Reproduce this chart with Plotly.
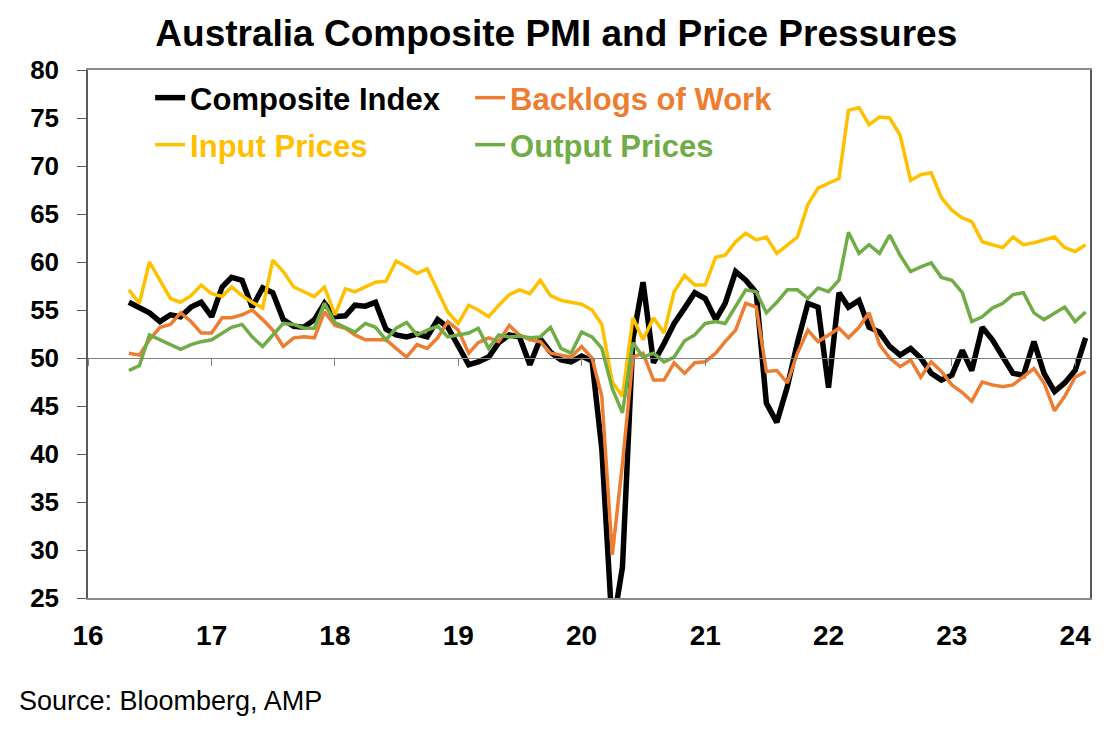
import pandas as pd
import plotly.graph_objects as go

# monthly survey readings, May 2016 to Feb 2024
meses = pd.date_range("2016-05-01", periods=94, freq="MS")

composite = [
    55.8, 55.2, 54.7, 53.8, 54.5, 54.3, 55.3, 55.8,
    54.3, 57.4, 58.4, 58.1, 55.3, 57.3, 56.8, 54.0, 53.3, 53.2, 54.0, 55.7,
    54.3, 54.4, 55.5, 55.4, 55.8, 53.0, 52.4, 52.2, 52.5, 52.2, 54.0, 53.2,
    51.2, 49.3, 49.6, 50.1, 51.6, 52.4, 52.2, 49.3, 52.0, 50.6, 49.8, 49.6,
    50.2, 49.7, 40.5, 21.7, 28.2, 52.0, 57.9, 49.5, 51.5, 53.6, 55.2, 56.8,
    56.2, 54.0, 55.7, 59.0, 58.1, 56.8, 45.3, 43.3, 47.0, 51.6, 55.7, 55.3,
    46.9, 56.8, 55.3, 56.0, 53.2, 52.7, 51.2, 50.3, 51.0, 50.0, 48.4, 47.7,
    48.2, 50.8, 48.7, 53.2, 51.9, 50.1, 48.4, 48.2, 51.7, 48.4, 46.5, 47.4,
    48.7, 52.1,
]
backlogs = [
    50.5, 50.3, 51.9, 53.2, 53.5, 54.7, 53.8, 52.6,
    52.6, 54.2, 54.2, 54.5, 55.0, 54.0, 52.9, 51.2, 52.1, 52.2, 52.1, 54.8,
    53.4, 53.1, 52.4, 51.9, 51.9, 51.9, 51.0, 50.1, 51.4, 51.0, 52.1, 53.8,
    52.9, 50.5, 51.6, 52.1, 51.7, 53.4, 52.4, 51.9, 51.7, 50.5, 50.3, 50.1,
    51.2, 50.0, 46.0, 29.5, 39.0, 50.1, 50.5, 47.7, 47.7, 49.5, 48.4, 49.5,
    49.6, 50.5, 51.7, 52.9, 55.7, 55.3, 48.6, 48.7, 47.4, 50.5, 52.9, 51.7,
    52.4, 53.1, 52.1, 53.2, 54.7, 51.4, 50.0, 49.1, 49.8, 48.0, 49.6, 48.6,
    47.2, 46.4, 45.5, 47.5, 47.2, 47.0, 47.2, 48.0, 48.9, 47.4, 44.5, 46.0,
    48.0, 48.6,
]
input_prices = [
    57.1, 55.7, 60.0, 58.1, 56.2, 55.8, 56.5, 57.6,
    56.7, 56.4, 57.4, 56.5, 55.8, 55.2, 60.2, 59.0, 57.4, 56.9, 56.4, 57.4,
    54.5, 57.2, 56.9, 57.4, 57.9, 58.0, 60.1, 59.5, 58.8, 59.3, 57.1, 54.8,
    53.6, 55.5, 55.0, 54.3, 55.5, 56.6, 57.1, 56.7, 58.1, 56.5, 56.0, 55.8,
    55.6, 55.0, 53.5, 47.5, 46.0, 54.2, 51.9, 54.2, 52.6, 56.9, 58.6, 57.6,
    57.6, 60.5, 60.7, 62.1, 63.0, 62.3, 62.6, 60.9, 61.8, 62.6, 66.0, 67.7,
    68.2, 68.7, 75.8, 76.1, 74.3, 75.1, 75.0, 73.2, 68.5, 69.1, 69.3, 66.7,
    65.4, 64.6, 64.2, 62.1, 61.8, 61.5, 62.6, 61.8, 62.0, 62.3, 62.6, 61.5,
    61.1, 61.8,
]
output_prices = [
    48.7, 49.2, 52.4, 51.9, 51.4, 50.9, 51.4, 51.7,
    51.9, 52.6, 53.2, 53.5, 52.2, 51.2, 52.4, 53.6, 53.5, 53.1, 53.1, 55.7,
    53.7, 53.2, 52.7, 53.6, 53.2, 51.9, 53.1, 53.7, 52.4, 52.9, 53.3, 52.2,
    52.4, 52.6, 53.1, 51.0, 52.4, 52.2, 52.3, 52.1, 52.2, 53.2, 51.0, 50.5,
    52.7, 52.2, 51.0, 46.8, 44.3, 51.6, 50.1, 50.5, 49.6, 50.1, 51.8, 52.4,
    53.6, 53.8, 53.6, 55.3, 57.1, 56.9, 54.7, 55.8, 57.1, 57.1, 56.2, 57.3,
    56.9, 58.1, 63.1, 60.9, 61.8, 60.9, 62.8, 60.7, 59.0, 59.5, 59.9, 58.4,
    58.1, 56.8, 53.8, 54.3, 55.2, 55.7, 56.6, 56.8, 54.7, 54.0, 54.7, 55.3,
    53.8, 54.8,
]

series = [
    ("Composite Index", composite, "#000000", 5.5, "legend"),
    ("Backlogs of Work", backlogs, "#ED7D31", 3.5, "legend"),
    ("Input Prices", input_prices, "#FFC000", 3.5, "legend2"),
    ("Output Prices", output_prices, "#70AD47", 3.5, "legend2"),
]

fonte = "Liberation Sans, Arial, sans-serif"
x_range = ["2016-01-01", "2024-02-14"]

fig = go.Figure()
for nome, valores, cor, larg, leg in series:
    fig.add_trace(go.Scatter(
        x=meses, y=valores, mode="lines", name=f"<span style='color:{cor}'>{nome}</span>",
        line=dict(color=cor, width=larg), legend=leg, hoverinfo="skip"
    ))

# empty trace so the axis crossing at 50 gets drawn
fig.add_trace(go.Scatter(x=[], y=[], xaxis="x2", yaxis="y", showlegend=False))

legenda = dict(
    orientation="h", xanchor="left", yanchor="middle", x=0.062,
    font=dict(family=fonte, size=31, weight="bold"),
    bgcolor="rgba(0,0,0,0)", entrywidth=275, tracegroupgap=0, itemwidth=30,
)

fig.update_layout(
    width=1119, height=735,
    margin=dict(l=80, r=37, t=62, b=145),
    paper_bgcolor="white", plot_bgcolor="white",
    title=dict(
        text="<b>Australia Composite PMI and Price Pressures</b>",
        x=0.49, xanchor="center", y=0.966, yanchor="middle",
        font=dict(family=fonte, size=37, color="black"),
    ),
    legend=dict(legenda, y=0.947),
    legend2=dict(legenda, y=0.858),
    xaxis=dict(
        type="date", range=x_range, tick0="2016-01-01", dtick="M12", tickformat="%y",
        showgrid=False, showline=True, mirror=True, linecolor="#8c8c8c", linewidth=1.5,
        ticks="", ticklabelstandoff=12, automargin=False,
        tickfont=dict(family=fonte, size=28, color="black", weight="bold"),
    ),
    xaxis2=dict(
        type="date", range=x_range, tick0="2016-01-01", dtick="M12",
        overlaying="x", anchor="free", position=(50 - 25) / (80 - 25),
        showgrid=False, showline=True, linecolor="#7f7f7f", linewidth=1.2,
        ticks="outside", ticklen=7, tickcolor="#7f7f7f", showticklabels=False,
        automargin=False,
    ),
    yaxis=dict(
        range=[25, 80], dtick=5, showgrid=False, zeroline=False,
        showline=True, mirror=True, linecolor="#595959", linewidth=1.5,
        ticks="outside", ticklen=9, tickcolor="#595959", automargin=False,
        ticklabelstandoff=13,
        tickfont=dict(family=fonte, size=26, color="black", weight="bold"),
    ),
    annotations=[dict(
        text="Source: Bloomberg, AMP", xref="paper", yref="paper",
        x=-0.071, y=-0.196, xanchor="left", yanchor="middle", showarrow=False,
        font=dict(family=fonte, size=27, color="black"),
    )],
)

fig.write_html("out.html")
